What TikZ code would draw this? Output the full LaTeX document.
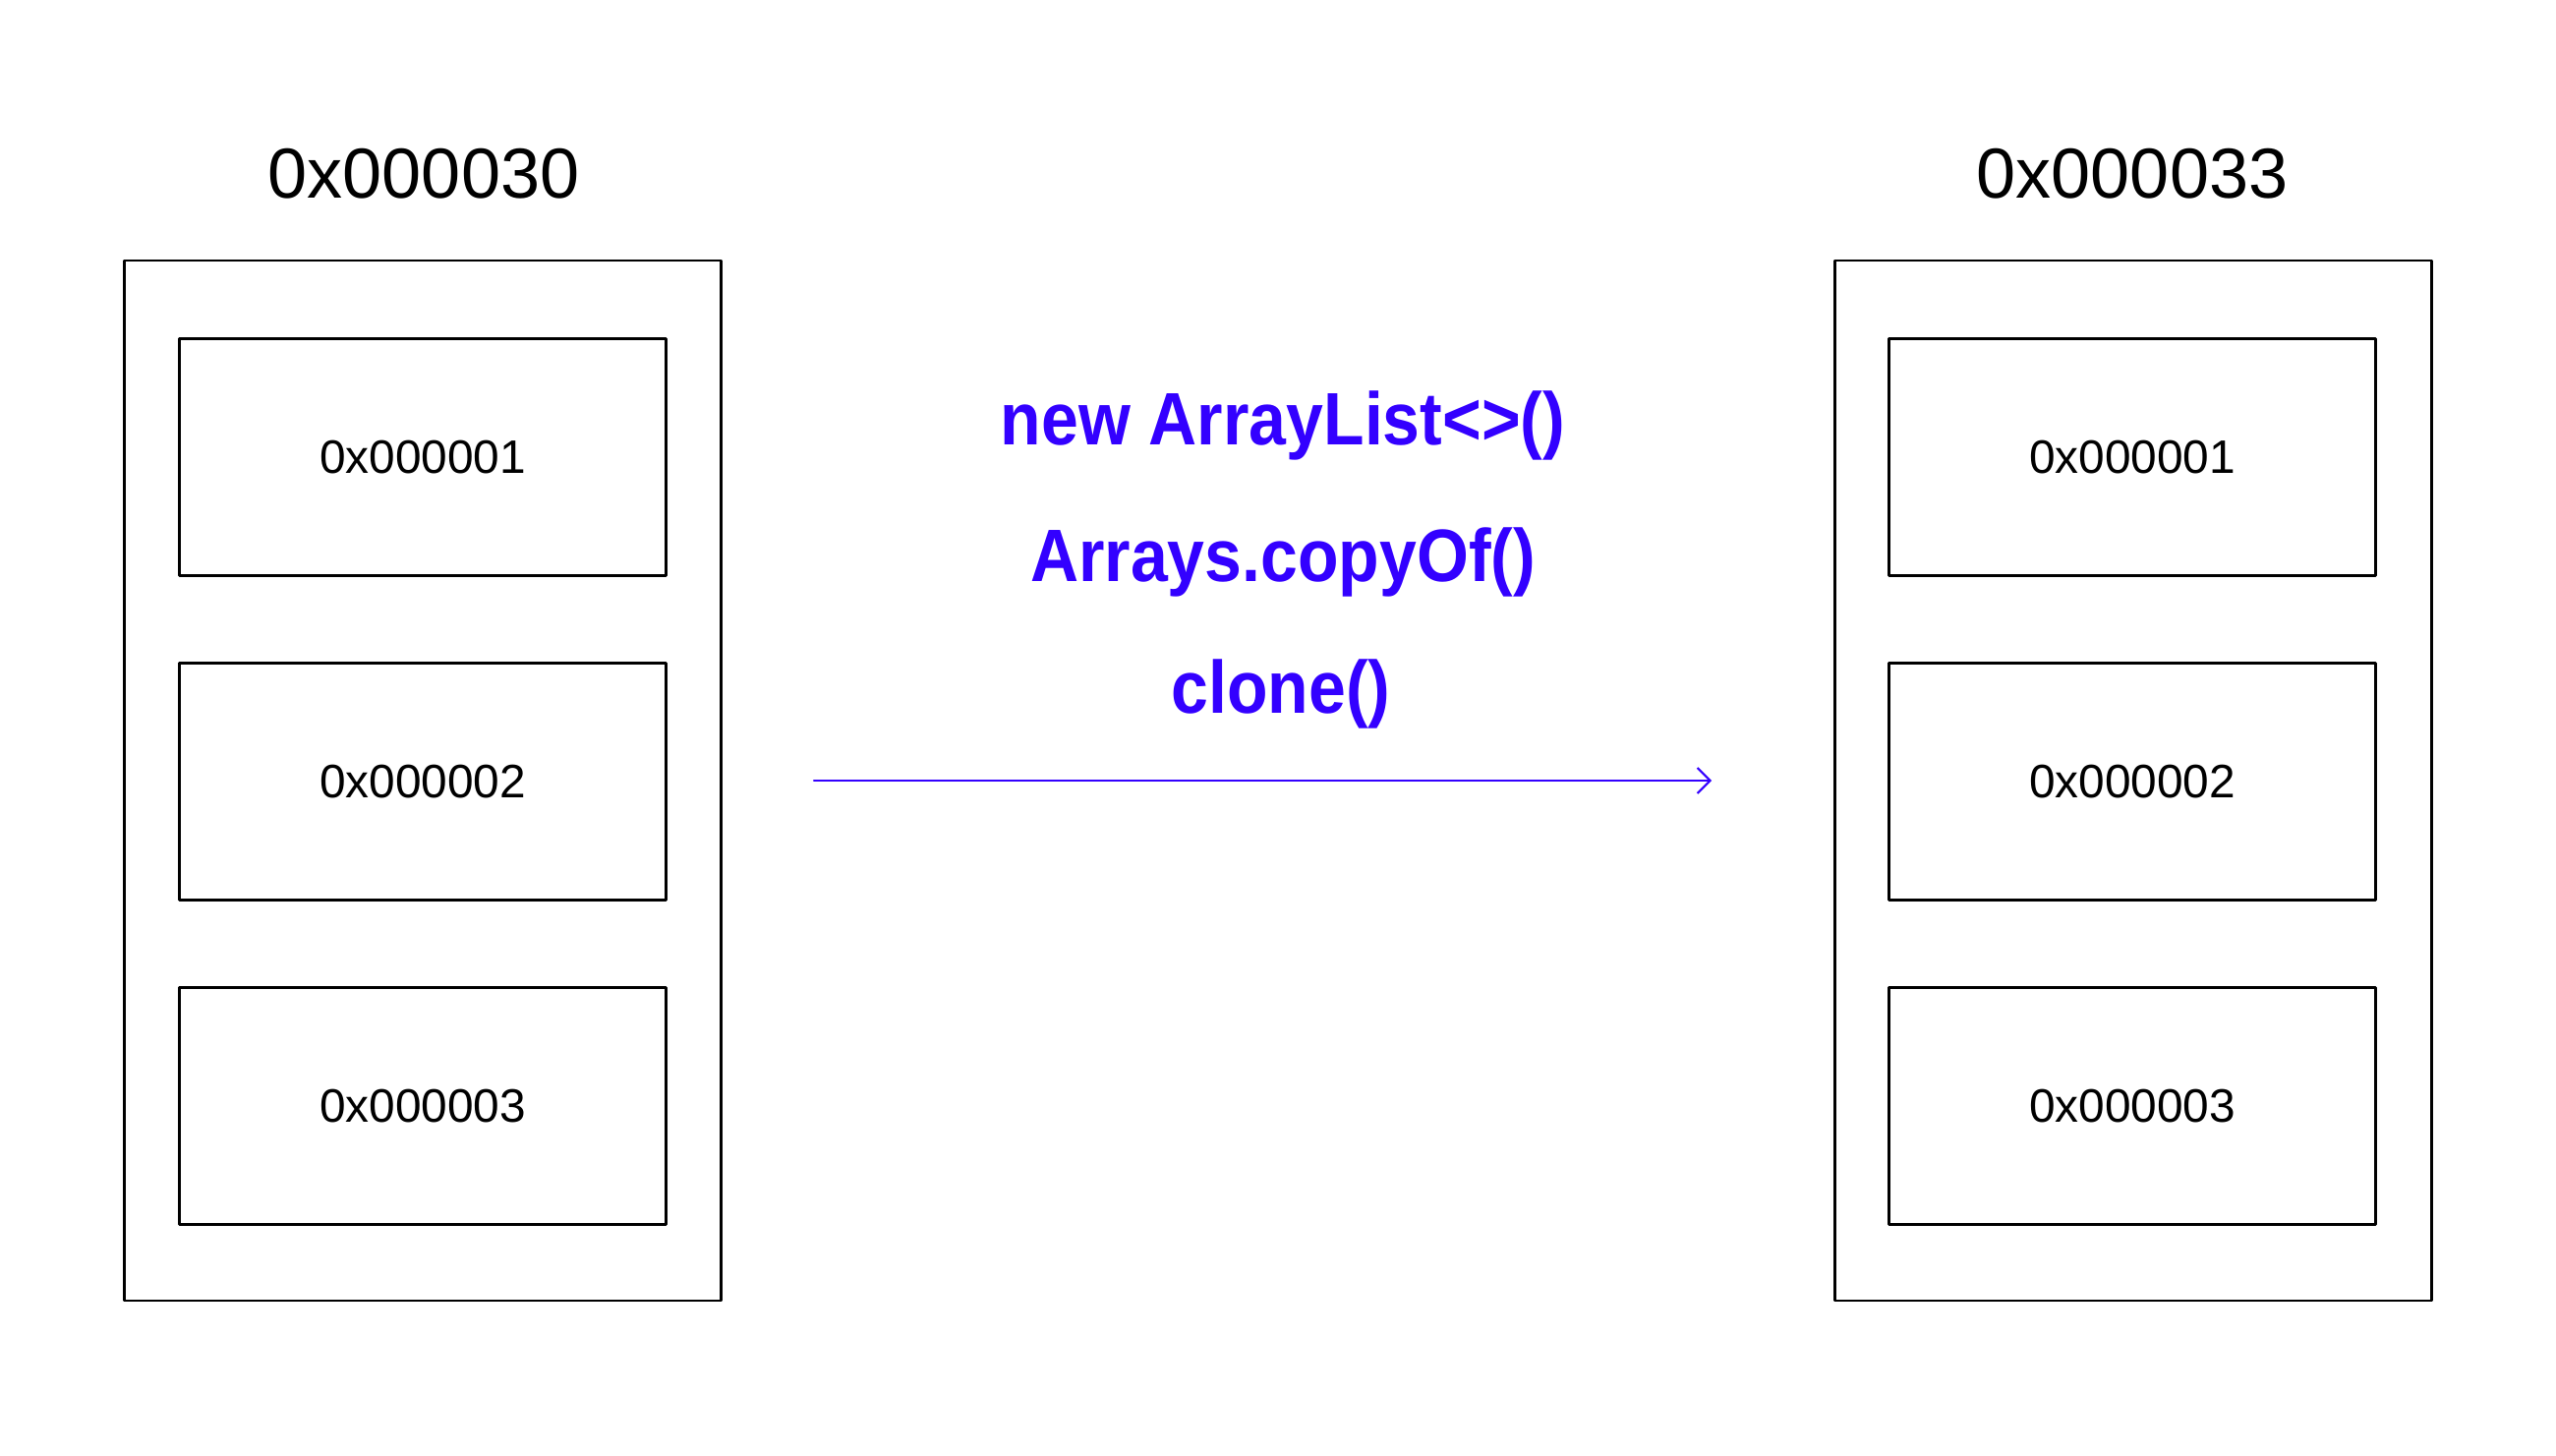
\documentclass[tikz,border=0pt]{standalone}
\usepackage{fontspec}
\usetikzlibrary{arrows.meta}
\setmainfont{Liberation Sans}
\newfontfamily\callfont[FakeStretch=0.9]{Liberation Sans}
\definecolor{callblue}{RGB}{51,0,255}
\begin{document}
\begin{tikzpicture}[line join = round, line cap = round,>={Straight Barb[length=1.3mm,width=2.6mm]},
		outer/.style={draw,line width=0.8pt,minimum width=6.07cm,minimum height=10.58cm},
		cell/.style={draw,line width=0.8pt,minimum width=4.945cm,minimum height=2.41cm,font=\fontsize{13.6}{16}\selectfont},
		title/.style={anchor=base,font=\fontsize{20.5}{24}\selectfont},
		call/.style={anchor=base,text=callblue,font=\callfont\bfseries\fontsize{21.5}{24}\selectfont}]
				\useasboundingbox (0,0) rectangle (26,14.8);
				\node[outer] (arrA) at (4.30,6.86) {};
				\node[outer] (arrB) at (21.70,6.86) {};
				\node[title] (nameA) at (4.31,12.78) {0x000030};
				\node[title] (nameB) at (21.69,12.78) {0x000033};
				\foreach \i/\y in {1/10.148,2/6.85,3/3.547}{
					\node[cell] (a\i) at (4.30,\y) {0x00000\i};
					\node[cell] (b\i) at (21.69,\y) {0x00000\i};
				}
				\node[call] (new) at (13.05,10.27) {new ArrayList<>()};
				\node[call] (copy) at (13.05,8.88) {Arrays.copyOf()};
				\node[call] (clone) at (13.03,7.54) {clone()};
				\coordinate (from) at (8.28,6.86);
				\coordinate (to) at (17.41,6.86);
				\draw[->,callblue,line width=0.6pt] (from) -- (to);
			\end{tikzpicture}
\end{document}
